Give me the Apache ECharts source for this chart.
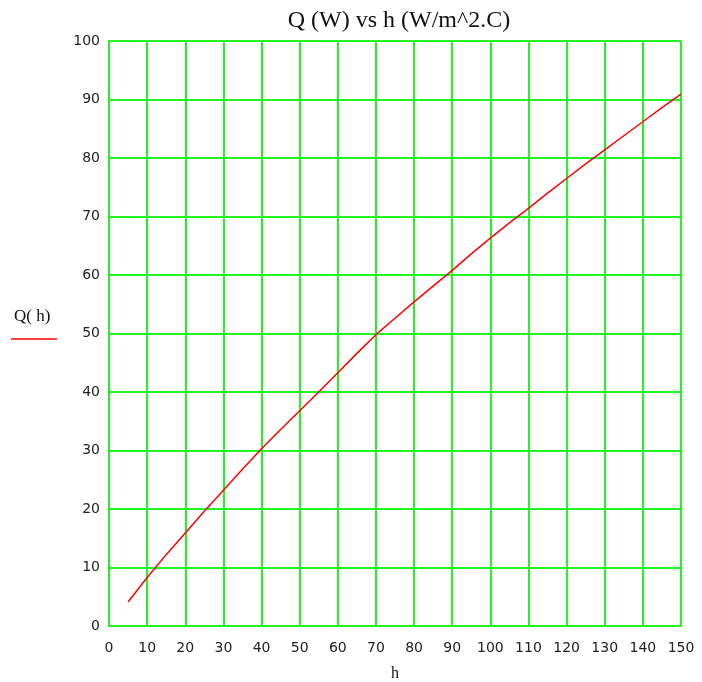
<!DOCTYPE html>
<html>
<head>
<meta charset="utf-8">
<script src="https://cdn.jsdelivr.net/npm/echarts@6/dist/echarts.min.js"></script>
<style>html,body{margin:0;padding:0;background:#fff}#c{width:702px;height:682px}</style>
</head>
<body>
<div id="c"></div>
<script>
const hValues = [5,10,15,20,25,30,35,40,45,50,55,60,65,70,75,80,85,90,95,100,105,110,115,120,125,130,135,140,145,150];
const qValues = [4.1,8.3,12.2,15.9,19.6,23.2,26.8,30.3,33.6,36.8,40.0,43.3,46.6,49.8,52.6,55.4,58.1,60.8,63.6,66.3,68.9,71.4,74.0,76.5,79.0,81.4,83.8,86.2,88.6,90.9];
const titleText = 'Q (W) vs h (W/m^2.C)';
const xName = 'h';
const legendText = 'Q( h)';

const green = '#22f522';
const chart = echarts.init(document.getElementById('c'));
chart.setOption({
  animation: false,
  title: {
    text: titleText, left: 394, top: 4, textAlign: 'center',
    textStyle: {fontFamily: 'Liberation Serif', fontSize: 24, fontWeight: 'normal', color: '#111'}
  },
  grid: {left: 109, right: 21, top: 41, bottom: 56, outerBoundsMode: 'none', containLabel: false},
  xAxis: {
    type: 'value', min: 0, max: 150, interval: 10,
    name: xName, nameLocation: 'middle', nameGap: 40,
    nameTextStyle: {fontFamily: 'Liberation Serif', fontSize: 16, color: '#111'},
    axisLine: {show: true, lineStyle: {color: green, width: 2}},
    axisTick: {show: false},
    axisLabel: {fontFamily: 'DejaVu Sans', fontSize: 14, color: '#222', margin: 15},
    splitLine: {show: true, lineStyle: {color: green, width: 2}}
  },
  yAxis: {
    type: 'value', min: 0, max: 100, interval: 10,
    axisLine: {show: true, lineStyle: {color: green, width: 2}},
    axisTick: {show: false},
    axisLabel: {fontFamily: 'DejaVu Sans', fontSize: 14, color: '#222', margin: 9},
    splitLine: {show: true, lineStyle: {color: green, width: 2}}
  },
  graphic: [
    {type: 'text', left: 14, top: 308, style: {text: legendText, font: '17px "Liberation Serif"', fill: '#111'}},
    {type: 'line', shape: {x1: 11, y1: 339, x2: 57, y2: 339}, style: {stroke: '#ff0000', lineWidth: 1.5}}
  ],
  series: [{
    type: 'line', name: legendText,
    data: hValues.map((h, i) => [h, qValues[i]]),
    showSymbol: false, smooth: false,
    lineStyle: {color: '#ff0000', width: 1.5}
  }]
});
</script>
</body>
</html>
